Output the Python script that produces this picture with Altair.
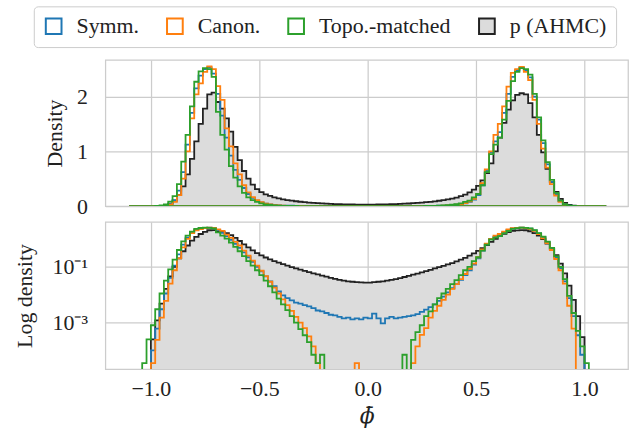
import altair as alt
import pandas as pd

# Histogram bins: 110 bins of width 0.02 from -1.1 to 1.1
bin_edges = [round(-1.1 + 0.02 * i, 2) for i in range(111)]

series_names = ["Symm.", "Canon.", "Topo.-matched", "p (AHMC)"]
series_colors = ["#1f77b4", "#ff7f0e", "#2ca02c", "#222222"]
series_fills = ["transparent", "transparent", "transparent", "#dcdcdc"]

symm = [
    0, 0, 0, 0, 0, 1e-4, 6e-4, 3e-3, 0.011, 0.04,
    0.11, 0.28, 0.62, 1.12, 1.70, 2.15, 2.38, 2.50, 2.53, 2.42,
    2.05, 1.65, 1.25, 0.92, 0.66, 0.48, 0.33, 0.22, 0.15, 0.10,
    0.068, 0.045, 0.03, 0.02, 0.013, 0.0095, 0.0075, 0.0062, 0.0052, 0.0048,
    0.0042, 0.0038, 0.0033, 0.0027, 0.0025, 0.0022, 0.0019, 0.0018, 0.0016, 0.0014,
    0.0015, 0.0013, 0.0014, 0.0013, 0.0015, 0.0014, 0.0021, 0.0014, 0.00093, 0.0014,
    0.0016, 0.0014, 0.0015, 0.0016, 0.0017, 0.0018, 0.002, 0.0024, 0.0029, 0.0036,
    0.0045, 0.006, 0.0085, 0.012, 0.017, 0.024, 0.034, 0.05, 0.075, 0.12,
    0.2, 0.38, 0.64, 0.98, 1.18, 1.35, 1.70, 2.05, 2.36, 2.48,
    2.53, 2.48, 2.35, 2.0, 1.58, 1.15, 0.76, 0.44, 0.22, 0.09,
    0.03, 0.0075, 0.0017, 3.5e-4, 7e-5, 0, 0, 0, 0, 0,
]
canon = [
    0, 0, 0, 0, 0, 3.5e-5, 2.4e-4, 1.5e-3, 6e-3, 0.025,
    0.075, 0.2, 0.5, 1.0, 1.6, 2.04, 2.24, 2.45, 2.55, 2.50,
    2.19, 1.94, 1.42, 1.09, 0.78, 0.58, 0.38, 0.25, 0.165, 0.11,
    0.072, 0.046, 0.029, 0.018, 0.011, 0.0068, 0.0042, 0.0026, 0.0016, 0.001,
    6.3e-4, 3.2e-4, 1.4e-4, 3.5e-5, 0, 0, 0, 0, 0, 0,
    0, 0, 3.5e-5, 0, 0, 0, 0, 0, 0, 0,
    0, 0, 0, 0, 0, 3.5e-5, 1.4e-4, 3.6e-4, 6.3e-4, 1.5e-3,
    2.6e-3, 4e-3, 6.5e-3, 0.01, 0.016, 0.024, 0.036, 0.055, 0.085, 0.13,
    0.22, 0.42, 0.67, 1.0, 1.30, 1.50, 1.82, 2.18, 2.43, 2.50,
    2.54, 2.45, 2.30, 1.94, 1.50, 1.05, 0.70, 0.40, 0.19, 0.075,
    0.025, 0.004, 6e-4, 0, 0, 0, 0, 0, 0, 0,
]
topo = [
    0, 0, 0, 3.5e-5, 2.5e-4, 8e-4, 3e-3, 0.011, 0.032, 0.08,
    0.18, 0.40, 0.81, 1.30, 1.82, 2.27, 2.46, 2.52, 2.50, 2.36,
    1.72, 1.30, 1.03, 0.73, 0.52, 0.36, 0.24, 0.16, 0.11, 0.075,
    0.05, 0.032, 0.02, 0.012, 0.0072, 0.0045, 0.0028, 0.0017, 0.001, 5.8e-4,
    3.5e-4, 2e-4, 7e-5, 3.5e-5, 7e-5, 0, 0, 0, 0, 0,
    0, 0, 0, 0, 0, 0, 0, 0, 0, 0,
    0, 0, 0, 7e-5, 0, 2.4e-4, 4.5e-4, 8e-4, 1.7e-3, 2.5e-3,
    4.5e-3, 7.5e-3, 0.011, 0.016, 0.024, 0.033, 0.05, 0.075, 0.10, 0.16,
    0.22, 0.38, 0.62, 0.95, 1.12, 1.25, 1.58, 1.92, 2.28, 2.45,
    2.52, 2.50, 2.40, 2.05, 1.62, 1.20, 0.80, 0.48, 0.24, 0.10,
    0.036, 0.009, 0.0022, 5e-4, 1.4e-4, 3.5e-5, 0, 0, 0, 0,
]
ahmc = [
    0, 0, 0, 0, 0, 2.5e-4, 1.2e-3, 4.8e-3, 0.016, 0.045,
    0.10, 0.20, 0.36, 0.58, 0.86, 1.18, 1.50, 1.78, 2.04, 2.07,
    1.90, 1.78, 1.60, 1.36, 1.08, 0.84, 0.64, 0.50, 0.39, 0.31,
    0.255, 0.215, 0.185, 0.16, 0.14, 0.124, 0.11, 0.098, 0.088, 0.079,
    0.071, 0.064, 0.058, 0.053, 0.048, 0.044, 0.040, 0.037, 0.034, 0.032,
    0.030, 0.029, 0.028, 0.0275, 0.027, 0.027, 0.028, 0.029, 0.030, 0.032,
    0.034, 0.036, 0.039, 0.043, 0.047, 0.052, 0.057, 0.063, 0.070, 0.078,
    0.087, 0.097, 0.108, 0.121, 0.136, 0.155, 0.18, 0.21, 0.25, 0.30,
    0.37, 0.47, 0.60, 0.78, 1.00, 1.25, 1.52, 1.76, 1.93, 2.03,
    2.06, 2.04, 1.88, 1.62, 1.30, 0.98, 0.68, 0.44, 0.26, 0.13,
    0.058, 0.021, 0.0065, 0.0017, 3e-4, 0, 0, 0, 0, 0,
]

x_ticks = [-1.0, -0.5, 0.0, 0.5, 1.0]
lin_ticks = [0, 1, 2]
log_ticks = [0.1, 0.001]

LOG_FLOOR = 1e-7

rows = []
for name, vals in zip(series_names, [symm, canon, topo, ahmc]):
    for i, v in enumerate(vals):
        rows.append({"series": name, "x": bin_edges[i], "y": v, "ylog": max(v, LOG_FLOOR)})
    rows.append({"series": name, "x": bin_edges[-1], "y": 0, "ylog": LOG_FLOOR})
df = pd.DataFrame(rows)

FONT = "Liberation Serif"
TEXT = "#222222"

stroke_scale = alt.Scale(domain=series_names, range=series_colors)
fill_scale = alt.Scale(domain=series_names, range=series_fills)
legend = alt.Legend(
    title=None, orient="none", direction="horizontal", legendX=-72, legendY=-54,
    symbolType="square", symbolSize=250, symbolStrokeWidth=2,
    labelFont=FONT, labelFontSize=22, labelColor=TEXT, labelLimit=400,
    labelOffset=12, columnPadding=24, padding=9,
    fillColor="white", strokeColor="#cccccc", cornerRadius=4,
)
xscale = alt.Scale(domain=[-1.21, 1.2006], nice=False, zero=False)

draw_order = ["p (AHMC)", "Symm.", "Canon.", "Topo.-matched"]


def panel(ycol, yscale, yaxis, xaxis, base, height):
    layers = []
    for s in draw_order:
        layers.append(
            alt.Chart(df)
            .transform_filter(alt.datum.series == s)
            .mark_area(interpolate="step-after", clip=True, strokeWidth=1.8)
            .encode(
                x=alt.X("x:Q", scale=xscale, axis=xaxis),
                y=alt.Y(f"{ycol}:Q", scale=yscale, axis=yaxis, stack=None),
                y2=alt.datum(base),
                fill=alt.Fill("series:N", scale=fill_scale, legend=legend),
                stroke=alt.Stroke("series:N", scale=stroke_scale, legend=legend),
            )
        )
    return alt.layer(*layers).properties(width=526, height=height)


top = panel(
    "y",
    alt.Scale(domain=[0, 2.667], nice=False, zero=False),
    alt.Axis(values=lin_ticks, title="Density", ticks=False, domain=False,
             labelFont=FONT, labelPadding=18,
             titleX=-51, titleBaseline="middle"),
    alt.Axis(values=x_ticks, labels=False, ticks=False, domain=False, title=None,
             labelPadding=0, minExtent=0, maxExtent=0),
    0,
    147,
)
bottom = panel(
    "ylog",
    alt.Scale(type="log", domain=[2.15e-5, 4.05], nice=False, zero=False),
    alt.Axis(values=log_ticks, title="Log density", ticks=False, domain=False,
             labelFont=FONT, labelPadding=18,
             titleX=-81, titleBaseline="middle",
             labelExpr="datum.value > 0.01 ? '10⁻¹' : '10⁻³'"),
    alt.Axis(values=x_ticks, ticks=False, domain=False, title="ϕ̄",
             labelFont=FONT, titleFont="DejaVu Serif", titleFontStyle="italic",
             labelPadding=10, titlePadding=6,
             labelExpr="replace(format(datum.value, '.1f'), '-', '−')"),
    LOG_FLOOR,
    148,
)

chart = (
    alt.vconcat(top, bottom, spacing=16, bounds="flush")
    .resolve_scale(fill="shared", stroke="shared")
    .properties(padding={"left": 13, "top": 4, "right": 0, "bottom": 3}, background="white")
    .configure(font=FONT)
    .configure_view(stroke="#cccccc", strokeWidth=1.25)
    .configure_axis(
        gridColor="#cccccc", gridWidth=1.25,
        labelFont=FONT, titleFont=FONT, labelFontSize=22, titleFontSize=22,
        titleFontWeight="normal", labelColor=TEXT, titleColor=TEXT,
    )
)

chart.save("out.html", embed_options={"renderer": "svg", "actions": False})
